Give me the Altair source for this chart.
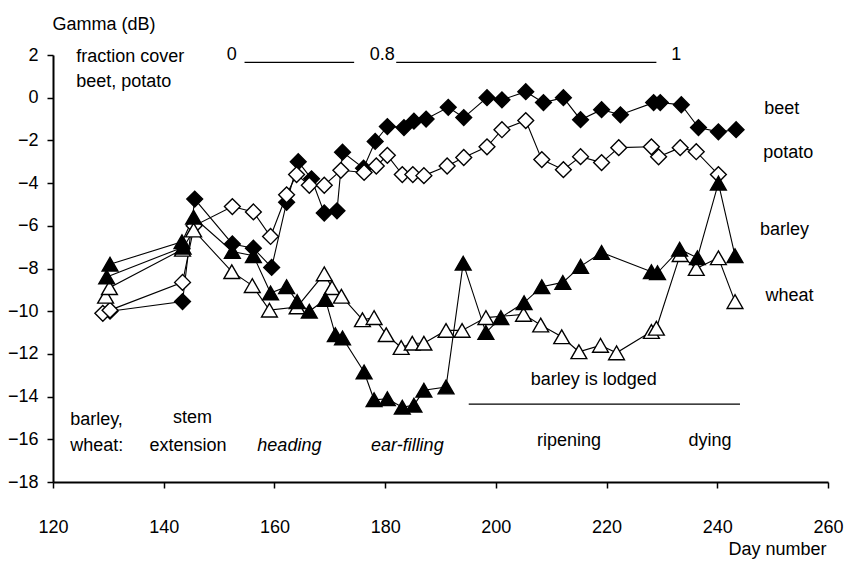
import altair as alt
import pandas as pd

# ---------------- data ----------------
beet_day = [130.3, 143.4, 145.6, 152.4, 156.2, 159.5, 162.2, 164.3, 166.7, 169.0, 171.3, 172.3,
            176.1, 178.2, 180.4, 183.4, 185.2, 187.4, 191.4, 194.2, 198.4, 201.1, 205.4, 208.6,
            212.2, 215.3, 219.1, 222.5, 228.5, 229.7, 233.5, 236.6, 240.2, 243.4]
beet_db = [-10.0, -9.55, -4.75, -6.85, -7.05, -7.95, -4.9, -3.0, -3.8, -5.4, -5.3, -2.55,
           -3.3, -2.05, -1.35, -1.4, -1.1, -1.0, -0.45, -0.93, 0.0, -0.1, 0.28, -0.23,
           0.0, -1.03, -0.56, -0.8, -0.23, -0.23, -0.33, -1.4, -1.6, -1.5]

potato_day = [129.0, 130.3, 143.4, 145.5, 152.4, 156.2, 159.3, 162.2, 164.0, 166.3, 169.0, 172.0,
              176.2, 178.4, 180.4, 183.1, 185.0, 187.0, 191.2, 194.2, 198.4, 201.1, 205.4, 208.3,
              212.2, 215.3, 219.1, 222.2, 228.1, 229.4, 233.3, 236.2, 240.2]
potato_db = [-10.1, -9.95, -8.65, -6.0, -5.1, -5.35, -6.5, -4.55, -3.6, -4.1, -4.1, -3.4,
             -3.5, -3.2, -2.7, -3.6, -3.6, -3.65, -3.2, -2.8, -2.3, -1.5, -1.07, -2.9,
             -3.37, -2.76, -3.04, -2.34, -2.3, -2.77, -2.34, -2.53, -3.6]

barley_day = [130.3, 143.3, 145.4, 152.4, 156.2, 159.3, 162.2, 164.1, 166.3, 169.2, 171.0, 172.3,
              176.2, 178.0, 180.4, 183.1, 185.2, 187.0, 191.0, 194.1, 198.2, 200.9, 205.1, 208.3,
              212.1, 215.3, 219.1, 228.1, 229.2, 233.2, 236.4, 240.2, 243.2]
barley_db = [-7.8, -6.75, -5.6, -7.2, -7.4, -9.15, -8.85, -9.55, -10.0, -9.45, -11.1, -11.25,
             -12.85, -14.15, -14.1, -14.5, -14.4, -13.7, -13.55, -7.75, -11.0, -10.3, -9.6, -8.85,
             -8.65, -7.9, -7.25, -8.15, -8.2, -7.1, -7.5, -4.0, -7.4]
# second barley trace at the start (two measurements on the first date)
barley2_day = [129.7, 143.5]
barley2_db = [-8.4, -7.0]

wheat_day = [129.5, 130.2, 143.4, 145.4, 152.3, 156.0, 159.1, 164.1, 169.0, 170.4, 172.1, 175.9,
             178.0, 180.2, 182.9, 184.9, 187.0, 191.0, 193.9, 198.2, 205.0, 208.1, 211.9, 215.0,
             218.9, 221.8, 228.1, 229.0, 233.3, 236.2, 240.2, 243.2]
wheat_db = [-9.3, -8.9, -7.1, -6.2, -8.15, -8.8, -9.95, -9.8, -8.25, -8.9, -9.3, -10.4,
            -10.3, -11.1, -11.7, -11.5, -11.5, -10.9, -10.9, -10.3, -10.15, -10.65, -11.2, -11.9,
            -11.6, -11.95, -10.95, -10.8, -7.35, -8.0, -7.5, -9.55]

x_ticks = [120, 140, 160, 180, 200, 220, 240, 260]
y_ticks = [2, 0, -2, -4, -6, -8, -10, -12, -14, -16, -18]

# annotations
left_text = ["fraction cover", "beet, potato", "beet", "potato", "barley", "wheat", "barley,", "wheat:"]
left_day = [124.2, 124.2, 248.5, 248.3, 247.7, 248.7, 123.1, 123.1]
left_db = [1.9, 0.75, -0.55, -2.6, -6.2, -9.3, -15.1, -16.3]

center_text = ["0", "0.8", "1", "stem", "extension", "ripening", "dying", "barley is lodged"]
center_day = [152.3, 179.5, 232.6, 145.2, 144.4, 213.2, 238.7, 217.7]
center_db = [2.0, 2.0, 2.0, -15.0, -16.3, -16.1, -16.1, -13.2]

italic_text = ["heading", "ear-filling"]
italic_day = [162.7, 184.0]
italic_db = [-16.3, -16.3]

rule_x = [154.6, 182.0, 195.1]
rule_x2 = [174.4, 229.0, 244.1]
rule_y = [1.65, 1.65, -14.35]

FONT = "Liberation Sans"
FS = 18

# ---------------- build tables ----------------
rows = []
def add(series, grp, days, vals):
    for i, (d, v) in enumerate(zip(days, vals)):
        rows.append(dict(series=series, grp=grp, day=d, db=v, idx=i))

add("beet", "beet", beet_day, beet_db)
add("potato", "potato", potato_day, potato_db)
add("barley", "barley", barley_day, barley_db)
add("barley", "barley2", barley2_day, barley2_db)
add("wheat", "wheat", wheat_day, wheat_db)
df = pd.DataFrame(rows)

xs = alt.Scale(domain=[120, 260], nice=False, zero=False)
ys = alt.Scale(domain=[-18, 2], nice=False, zero=False)

X = alt.X("day:Q", scale=xs, axis=alt.Axis(
    values=x_ticks, format="d", tickSize=6, tickWidth=1.5, domainWidth=2,
    labelPadding=30, labelFontSize=FS, labelFont=FONT, labelColor="black",
    labelFlush=False, grid=False,
    title="Day number", titleFont=FONT, titleFontSize=FS, titleFontWeight="normal",
    titleColor="black", titleX=773, titleY=72, titleAlign="right",
    titleBaseline="alphabetic", titleAnchor="end"))
Y = alt.Y("db:Q", scale=ys, axis=alt.Axis(
    values=y_ticks, format="d", tickSize=6, tickWidth=1.5, domainWidth=2,
    labelPadding=9, labelFontSize=FS, labelFont=FONT, labelColor="black",
    labelFlush=False, grid=False,
    title="Gamma (dB)", titleFont=FONT, titleFontSize=FS, titleFontWeight="normal",
    titleColor="black", titleAngle=0, titleX=-1, titleY=-26, titleAlign="left",
    titleBaseline="alphabetic"))

base = alt.Chart(df)

lines = base.mark_line(color="black", strokeWidth=1.1).encode(
    x=X, y=Y, detail="grp:N", order="idx:Q")

def pts(series, shape, fill):
    return alt.Chart(df[df.series == series]).mark_point(
        shape=shape, filled=True, fill=fill, stroke="black", strokeWidth=1.4,
        size=250, opacity=1).encode(x="day:Q", y="db:Q")

beet_pts = pts("beet", "diamond", "black")
potato_pts = pts("potato", "diamond", "white")
wheat_pts = pts("wheat", "triangle-up", "white")
barley_pts = pts("barley", "triangle-up", "black")

rules_df = pd.DataFrame(dict(x=rule_x, x2=rule_x2, y=rule_y))
rules = alt.Chart(rules_df).mark_rule(color="black", strokeWidth=1.3).encode(
    x="x:Q", x2="x2:Q", y="y:Q")

def txt(texts, days, dbs, align, style="normal"):
    d = pd.DataFrame(dict(t=texts, day=days, db=dbs))
    return alt.Chart(d).mark_text(
        align=align, baseline="middle", font=FONT, fontSize=FS, fontStyle=style,
        color="black").encode(x="day:Q", y="db:Q", text="t:N")

t_left = txt(left_text, left_day, left_db, "left")
t_center = txt(center_text, center_day, center_db, "center")
t_italic = txt(italic_text, italic_day, italic_db, "center", "italic")

chart = alt.layer(
    lines, beet_pts, potato_pts, wheat_pts, barley_pts, rules, t_left, t_center, t_italic
).properties(
    width=775, height=427,
    autosize=alt.AutoSizeParams(type="none"),
    padding={"left": 53, "top": 55, "right": 16, "bottom": 81},
    background="white",
).configure_view(stroke=None).configure_axis(
    domainColor="black", tickColor="black")

chart.save("out.html", embed_options={"renderer": "svg", "actions": False})
